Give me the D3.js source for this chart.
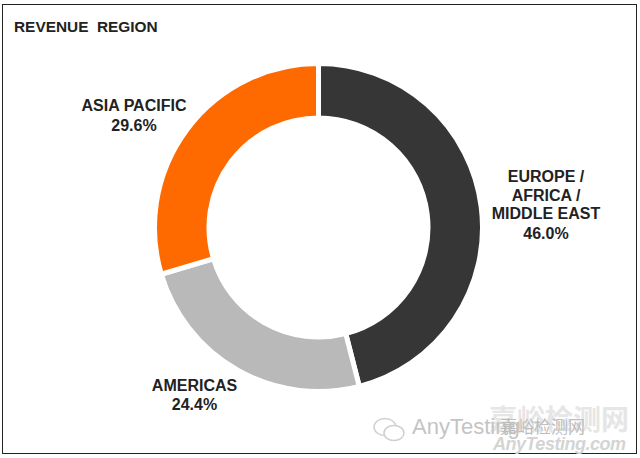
<!DOCTYPE html>
<html><head><meta charset="utf-8">
<script src="https://cdn.jsdelivr.net/npm/d3@7"></script>
<style>html,body{margin:0;padding:0;background:#fff}svg{display:block}</style>
</head><body><svg id="c" width="640" height="458"></svg>
<script>
const categories = ["EUROPE / AFRICA / MIDDLE EAST","AMERICAS","ASIA PACIFIC"];
const values = [46.0,24.4,29.6];
const colors = ["#363636","#b9b9b9","#ff6a00"];
const svg = d3.select("#c");
svg.append("rect").attr("x",2.5).attr("y",4.5).attr("width",634).attr("height",449).attr("fill","#fff").attr("stroke","#222");
const g = svg.append("g").attr("transform","translate(318.5,227.5)");
const pie = d3.pie().sort(null)(values);
const arc = d3.arc().innerRadius(109.5).outerRadius(164);
g.selectAll("path").data(pie).join("path").attr("d",arc).attr("fill",(d,i)=>colors[i]).attr("stroke","#fff").attr("stroke-width",5);
const font = "Liberation Sans, Arial, sans-serif";
svg.append("text").attr("x",14).attr("y",32).attr("font-family",font).attr("font-weight",700).attr("font-size",15.4).attr("fill","#222").attr("xml:space","preserve").text("REVENUE  REGION");
const labels = [
 {x:546,y:[182,201,219,239],t:["EUROPE /","AFRICA /","MIDDLE EAST",values[0].toFixed(1)+"%"]},
 {x:194.5,y:[391,410],t:["AMERICAS",values[1].toFixed(1)+"%"]},
 {x:134,y:[111,131],t:["ASIA PACIFIC",values[2].toFixed(1)+"%"]}
];
labels.forEach(l=>l.t.forEach((s,i)=>svg.append("text").attr("x",l.x).attr("y",l.y[i]).attr("text-anchor","middle").attr("font-family",font).attr("font-weight",700).attr("font-size",16).attr("fill","#222").text(s)));
// watermark
const wm = svg.append("g");
wm.append("ellipse").attr("cx",385).attr("cy",427).attr("rx",11).attr("ry",8.5).attr("fill","#fff").attr("stroke","#cfcfcf").attr("stroke-width",1.5);
wm.append("ellipse").attr("cx",394).attr("cy",433).attr("rx",10).attr("ry",7.5).attr("fill","#fff").attr("stroke","#cfcfcf").attr("stroke-width",1.5);
wm.append("text").attr("x",489).attr("y",430).attr("font-family","Noto Sans CJK SC").attr("font-weight",700).attr("font-size",28).attr("fill","#e6e6e6").attr("textLength",140).text("嘉峪检测网");
wm.append("text").attr("x",412).attr("y",434).attr("font-family","Liberation Sans").attr("font-size",22).attr("fill","#c4c4c4").text("AnyTesting");
wm.append("text").attr("x",500).attr("y",433).attr("font-family","Noto Sans CJK SC").attr("font-size",17).attr("fill","#bdbdbd").text("嘉峪检测网");
wm.append("text").attr("x",493).attr("y",450).attr("font-family","Liberation Sans").attr("font-style","italic").attr("font-weight",700).attr("font-size",18).attr("fill","#d4d4d4").attr("textLength",133).text("AnyTesting.com");
</script></body></html>
